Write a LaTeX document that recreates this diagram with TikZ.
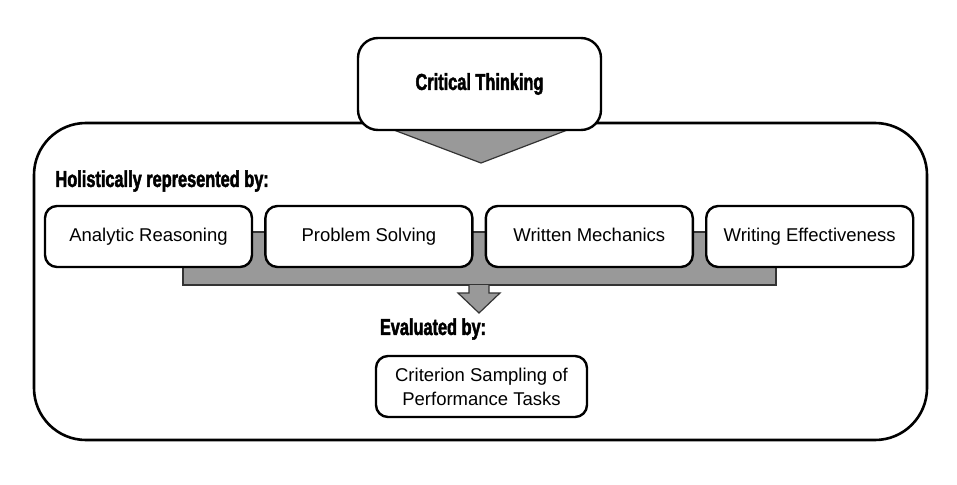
\documentclass[tikz,border=0pt]{standalone}
\usepackage{fontspec}
\setmainfont{Liberation Sans}
\newfontfamily\headfont{Liberation Sans}[FakeStretch=0.71,FakeBold=2]
\usetikzlibrary{positioning}

\begin{document}
\begin{tikzpicture}[x=1pt,y=-1pt,
  boxnode/.style={draw,line width=2.4pt,rounded corners=12pt,fill=white,
    minimum width=207pt,minimum height=61pt,align=center,
    font=\fontsize{18.5}{24}\selectfont},
  itemnode/.style={boxnode,text height=13.5pt,text depth=4pt},
  headnode/.style={font=\headfont\bfseries\fontsize{23}{26}\selectfont},
  grayshape/.style={fill=black!40,draw=black!80,line width=1.2pt},
]
\useasboundingbox (0,0) rectangle (957,484);
% outer frame and the top triangle
\draw[line width=2.6pt,rounded corners=52pt] (34,123) rectangle (927,440);
\draw[grayshape] (378,124) -- (583,124) -- (481,163) -- cycle;
\node[boxnode,minimum width=243pt,minimum height=92pt,rounded corners=20pt,
  headnode] (think) at (479.5,84) {Critical Thinking};

\node[headnode,anchor=west] (holi) at (52,181) {Holistically represented by:};

% bar and arrow behind the four boxes
\draw[grayshape] (183,232) rectangle (776,285);
\coordinate (tip) at (479,313);
\draw[grayshape] (469,285) -- (469,293) -- (458,293) -- (tip)
  -- (500,293) -- (489,293) -- (489,285);

\node[itemnode] (ar) at (148.5,236.5) {Analytic Reasoning};
\node[itemnode,right=11pt of ar] (ps) {Problem Solving};
\node[itemnode,right=11pt of ps] (wm) {Written Mechanics};
\node[itemnode,right=11pt of wm] (we) {Writing Effectiveness};

\node[headnode] (eval) at (433,329) {Evaluated by:};
\node[boxnode,minimum width=211pt] (csp) at (481.5,386.5)
  {Criterion Sampling of\\Performance Tasks};
\end{tikzpicture}
\end{document}
